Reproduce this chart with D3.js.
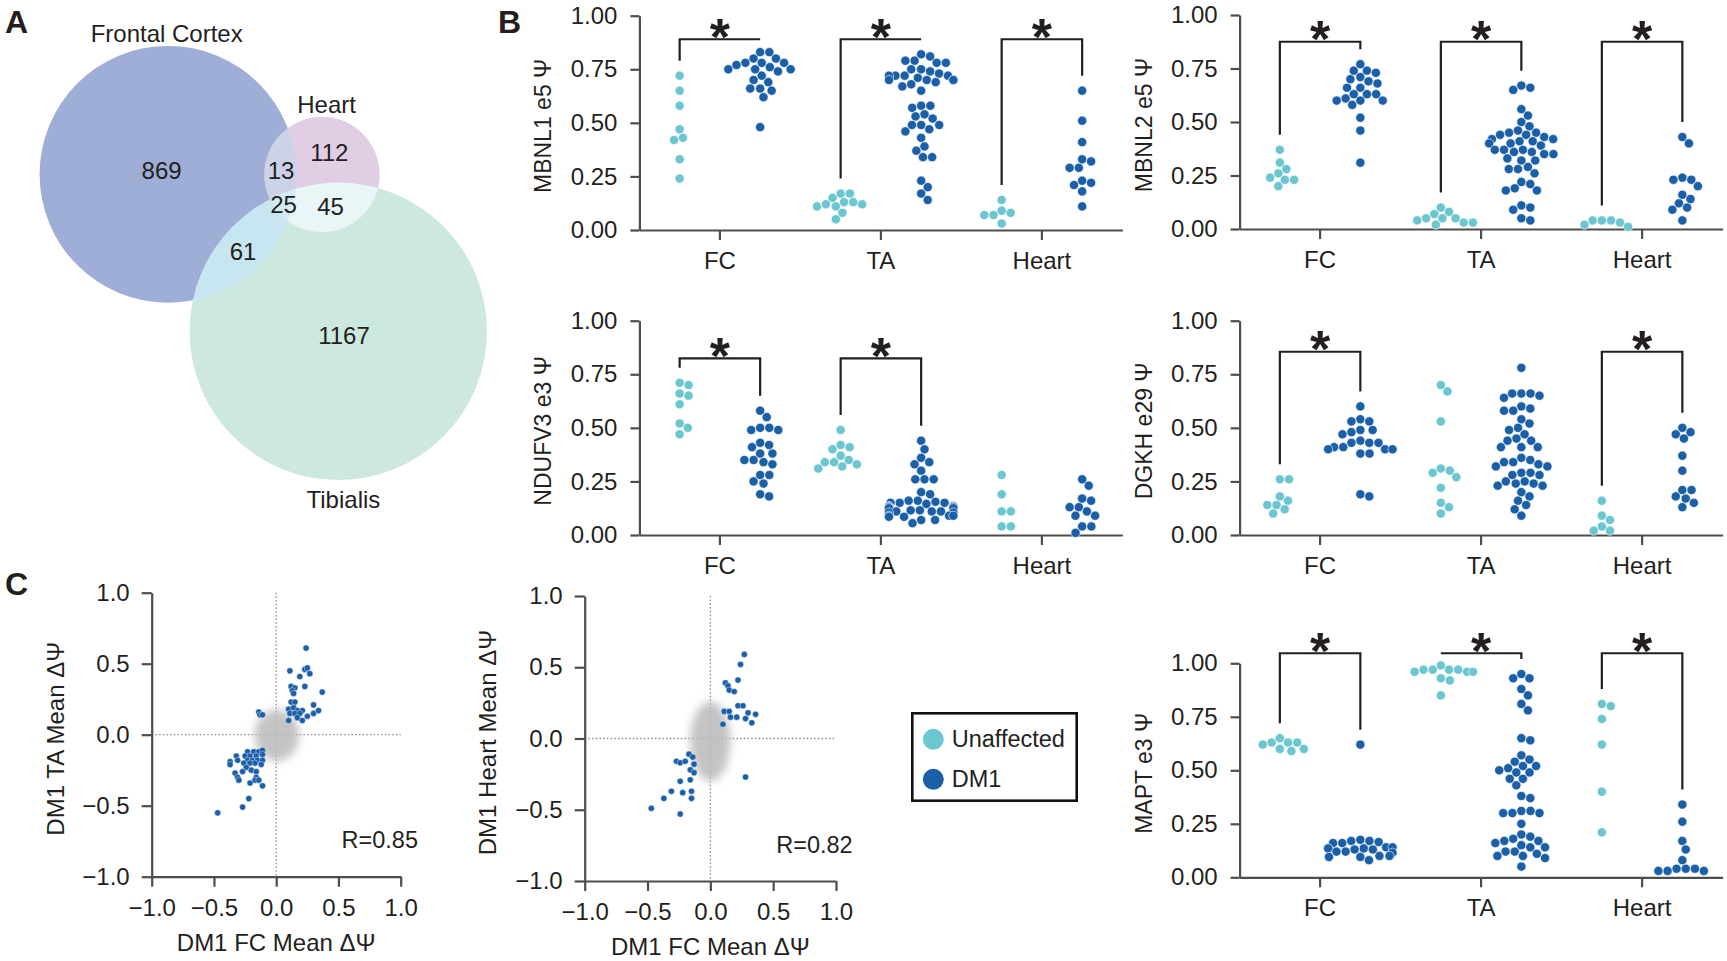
<!DOCTYPE html>
<html><head><meta charset="utf-8">
<script src="https://cdn.jsdelivr.net/npm/d3@7"></script>
<style>
body{margin:0;background:#fff;}
svg{display:block;font-family:"Liberation Sans",Arial,Helvetica,sans-serif;}
</style></head><body>
<svg id="fig" width="1727" height="961"></svg>
<script>
// ---------------- DATA ----------------
// Panel A: Venn region counts
const vennSets = ["Frontal Cortex", "Heart", "Tibialis"];
const vennOnly = [869, 112, 1167];           // FC only, Heart only, Tibialis only
const vennFCHeart = 13, vennFCTib = 61, vennHeartTib = 45, vennAll = 25;

// Panel B: swarm plots (Ψ), per category FC, TA, Heart
const categories = ["FC", "TA", "Heart"];
const groups = ["Unaffected", "DM1"];

const mbnl1Unaffected = [
  [0.72,0.65,0.58,0.47,0.43,0.42,0.33,0.24],
  [0.17,0.17,0.15,0.13,0.13,0.12,0.12,0.11,0.11,0.08,0.05],
  [0.14,0.09,0.08,0.07,0.07,0.03]];
const mbnl1DM1 = [
  [0.83,0.83,0.80,0.80,0.78,0.78,0.78,0.77,0.76,0.75,0.75,0.75,0.74,0.72,0.70,0.69,0.66,0.66,0.65,0.62,0.48],
  [0.82,0.81,0.79,0.79,0.78,0.78,0.75,0.75,0.74,0.73,0.72,0.72,0.72,0.72,0.71,0.70,0.70,0.70,0.70,0.69,0.68,0.67,0.65,0.58,0.58,0.57,0.54,0.53,0.52,0.49,0.49,0.49,0.47,0.46,0.43,0.39,0.37,0.34,0.34,0.23,0.20,0.17,0.14],
  [0.65,0.51,0.41,0.33,0.32,0.29,0.29,0.23,0.22,0.21,0.18,0.11]];
const mbnl1Sig = [true, true, true];

const mbnl2Unaffected = [
  [0.37,0.31,0.28,0.26,0.24,0.23,0.23,0.20],
  [0.10,0.08,0.07,0.05,0.05,0.05,0.04,0.03,0.03,0.02],
  [0.04,0.04,0.04,0.03,0.02,0.01]];
const mbnl2DM1 = [
  [0.77,0.74,0.74,0.73,0.71,0.70,0.69,0.68,0.66,0.66,0.63,0.63,0.63,0.61,0.60,0.60,0.60,0.58,0.52,0.46,0.31],
  [0.67,0.66,0.65,0.56,0.53,0.50,0.48,0.46,0.45,0.45,0.44,0.44,0.43,0.42,0.42,0.41,0.41,0.40,0.40,0.39,0.37,0.37,0.37,0.36,0.36,0.35,0.35,0.33,0.32,0.32,0.29,0.28,0.28,0.26,0.22,0.21,0.19,0.18,0.18,0.11,0.10,0.09,0.05,0.04],
  [0.43,0.40,0.24,0.23,0.23,0.20,0.16,0.14,0.12,0.10,0.09,0.04]];
const mbnl2Sig = [true, true, true];

const ndufv3Unaffected = [
  [0.71,0.70,0.66,0.65,0.61,0.52,0.50,0.47],
  [0.49,0.42,0.41,0.40,0.37,0.35,0.34,0.34,0.33,0.32,0.31],
  [0.28,0.19,0.11,0.11,0.04,0.04]];
const ndufv3DM1 = [
  [0.58,0.55,0.50,0.50,0.49,0.49,0.43,0.42,0.41,0.38,0.38,0.35,0.35,0.34,0.33,0.28,0.28,0.25,0.24,0.19,0.18],
  [0.44,0.40,0.36,0.34,0.33,0.30,0.26,0.26,0.26,0.20,0.19,0.16,0.155,0.15,0.15,0.145,0.16,0.15,0.135,0.13,0.13,0.125,0.135,0.13,0.125,0.13,0.11,0.115,0.105,0.11,0.11,0.105,0.115,0.09,0.085,0.09,0.085,0.09,0.07,0.07,0.055],
  [0.26,0.23,0.17,0.16,0.13,0.13,0.11,0.09,0.09,0.04,0.04,0.01]];
const ndufv3Sig = [true, true, false];

const dgkhUnaffected = [
  [0.26,0.26,0.18,0.16,0.14,0.14,0.12,0.10],
  [0.70,0.67,0.53,0.31,0.30,0.29,0.27,0.22,0.15,0.13,0.10],
  [0.16,0.09,0.07,0.04,0.02,0.02]];
const dgkhDM1 = [
  [0.60,0.54,0.53,0.53,0.49,0.49,0.48,0.47,0.44,0.43,0.43,0.43,0.41,0.41,0.40,0.40,0.40,0.38,0.38,0.19,0.18],
  [0.78,0.66,0.66,0.66,0.65,0.64,0.60,0.59,0.58,0.58,0.54,0.52,0.50,0.49,0.47,0.45,0.44,0.44,0.41,0.41,0.41,0.36,0.35,0.34,0.34,0.33,0.32,0.32,0.29,0.29,0.28,0.28,0.25,0.25,0.24,0.24,0.23,0.23,0.20,0.18,0.16,0.14,0.12,0.09],
  [0.50,0.48,0.47,0.45,0.37,0.30,0.21,0.21,0.18,0.17,0.15,0.13]];
const dgkhSig = [true, false, true];

const maptUnaffected = [
  [0.65,0.63,0.63,0.63,0.62,0.60,0.60,0.59],
  [0.99,0.97,0.97,0.97,0.97,0.96,0.96,0.96,0.93,0.92,0.85],
  [0.81,0.80,0.74,0.62,0.40,0.21]];
const maptDM1 = [
  [0.62,0.17,0.17,0.175,0.16,0.165,0.16,0.14,0.135,0.135,0.13,0.135,0.14,0.13,0.12,0.12,0.115,0.10,0.095,0.10,0.095,0.08],
  [0.95,0.93,0.93,0.88,0.85,0.81,0.78,0.65,0.64,0.57,0.55,0.54,0.52,0.52,0.51,0.50,0.49,0.49,0.46,0.46,0.43,0.38,0.37,0.31,0.31,0.30,0.30,0.30,0.25,0.20,0.19,0.18,0.17,0.17,0.16,0.15,0.14,0.14,0.12,0.12,0.11,0.10,0.10,0.09,0.05],
  [0.34,0.26,0.17,0.13,0.08,0.04,0.04,0.04,0.03,0.03,0.03]];
const maptSig = [true, true, true];

const psiTicks = [0, 0.25, 0.5, 0.75, 1.0];

// Panel C: mean ΔΨ of significant events [FC, other tissue]
const fcVsTA = [[0.24,0.61],[0.11,0.45],[0.23,0.46],[0.25,0.47],[0.19,0.41],[0.27,0.43],[0.12,0.34],[0.15,0.33],[0.13,0.31],[0.23,0.34],[0.14,0.29],[0.37,0.30],[0.12,0.23],[0.15,0.23],[0.30,0.21],[0.10,0.18],[0.14,0.19],[0.17,0.17],[0.21,0.17],[0.11,0.15],[0.15,0.15],[0.19,0.15],[0.17,0.12],[0.25,0.13],[0.30,0.15],[0.34,0.17],[0.10,0.10],[0.21,0.10],[-0.14,0.16],[-0.13,0.14],[-0.11,0.14],
  [-0.23,-0.12],[-0.18,-0.12],[-0.14,-0.12],[-0.11,-0.11],[-0.25,-0.15],[-0.21,-0.15],[-0.16,-0.15],[-0.11,-0.14],[-0.32,-0.15],[-0.31,-0.18],[-0.23,-0.18],[-0.19,-0.18],[-0.15,-0.18],[-0.11,-0.18],[-0.37,-0.19],[-0.37,-0.21],[-0.26,-0.20],[-0.21,-0.20],[-0.17,-0.20],[-0.12,-0.21],[-0.24,-0.23],[-0.20,-0.25],[-0.27,-0.26],[-0.33,-0.27],[-0.16,-0.26],[-0.31,-0.30],[-0.30,-0.32],[-0.16,-0.30],[-0.17,-0.32],[-0.14,-0.32],[-0.21,-0.34],[-0.11,-0.36],[-0.22,-0.45],[-0.27,-0.51],[-0.47,-0.55]];
const fcVsHeart = [[0.27,0.59],[0.24,0.52],[0.22,0.41],[0.12,0.39],[0.14,0.37],[0.15,0.34],[0.19,0.33],[0.22,0.23],[0.26,0.23],[0.11,0.19],[0.15,0.19],[0.30,0.18],[0.36,0.17],[0.16,0.15],[0.21,0.15],[0.28,0.14],[0.33,0.11],[0.10,0.10],[0.28,-0.27],
  [-0.17,-0.11],[-0.14,-0.13],[-0.27,-0.16],[-0.24,-0.17],[-0.20,-0.16],[-0.13,-0.18],[-0.16,-0.22],[-0.13,-0.24],[-0.16,-0.29],[-0.24,-0.30],[-0.31,-0.37],[-0.22,-0.38],[-0.15,-0.37],[-0.15,-0.42],[-0.37,-0.42],[-0.47,-0.49],[-0.24,-0.53]];
// non-significant background events summarised as a cloud (centre x, centre y, spread x, spread y in ΔΨ units)
const cloudTA = [0.005, -0.005, 0.18, 0.18];
const cloudHeart = [0.0, -0.02, 0.16, 0.28];
const correlations = [0.85, 0.82];
const deltaTicks = [-1, -0.5, 0, 0.5, 1];

// ---------------- DRAW ----------------
const svg = d3.select("#fig");
const INK = "#231f20", AXIS = "#4d4d4d";
const C_UNAFF = "#6cc6d0", C_DM1 = "#1a5fa8";

const defs = svg.append("defs");
defs.append("filter").attr("id","blur").attr("x","-50%").attr("y","-50%").attr("width","200%").attr("height","200%")
  .append("feGaussianBlur").attr("stdDeviation", 4.5);

// panel letters
[["A",5,33],["B",498,33],["C",5,595]].forEach(([t,x,y]) =>
  svg.append("text").attr("x",x).attr("y",y).attr("font-size",32).attr("font-weight",700).attr("fill",INK).text(t));

// ---- Venn ----
(function(){
  const totals = [
    vennOnly[0] + vennFCHeart + vennFCTib + vennAll,
    vennOnly[1] + vennFCHeart + vennHeartTib + vennAll,
    vennOnly[2] + vennFCTib + vennHeartTib + vennAll];
  const rScale = d3.scaleSqrt().domain([0, totals[2]]).range([0, 148.7]);
  const centers = [[168,174.3],[322,174.5],[338.3,331.3]];
  const fills = ["#9eaed6","#e1cee5","#cde8df"];
  const g = svg.append("g");
  const circ = i => ({cx: centers[i][0], cy: centers[i][1], r: rScale(totals[i])});
  [0,1,2].forEach(i => {
    const c = circ(i);
    defs.append("clipPath").attr("id","vc"+i).append("circle").attr("cx",c.cx).attr("cy",c.cy).attr("r",c.r);
    g.append("circle").attr("cx",c.cx).attr("cy",c.cy).attr("r",c.r).attr("fill",fills[i]);
  });
  const inter = (a, b, col) => {
    const c = circ(b);
    g.append("g").attr("clip-path",`url(#vc${a})`)
      .append("circle").attr("cx",c.cx).attr("cy",c.cy).attr("r",c.r).attr("fill",col);
  };
  inter(0,1,"#ccd3e9");
  inter(0,2,"#c8e6f1");
  inter(1,2,"#e9f5f6");
  const c2 = circ(2);
  g.append("g").attr("clip-path","url(#vc0)").append("g").attr("clip-path","url(#vc1)")
    .append("circle").attr("cx",c2.cx).attr("cy",c2.cy).attr("r",c2.r).attr("fill","#d4ebf4");

  const labels = [
    [vennSets[0],166.7,33.3],[vennSets[1],326.6,104],[vennSets[2],343.4,499],
    [vennOnly[0],161.6,170.7],[vennOnly[1],329.3,152.7],[vennOnly[2],344,335.7],
    [vennFCHeart,281,170.7],[vennAll,283.5,204],[vennHeartTib,330.6,206.7],[vennFCTib,243,251.7]];
  labels.forEach(([t,x,y]) => g.append("text").attr("x",x).attr("y",y)
    .attr("text-anchor","middle").attr("dominant-baseline","central")
    .attr("font-size",24).attr("fill",INK).text(t));
})();

// ---- swarm panels ----
function swarm(values, y, r, halfWidth) {
  const pts = values.map(v => ({v, y: y(v), x: 0})).sort((a,b) => a.y - b.y);
  const d = 2 * r, placed = [];
  for (const p of pts) {
    const nb = placed.filter(q => Math.abs(q.y - p.y) < d);
    const cands = [0];
    nb.forEach(q => { const dx = Math.sqrt(d*d - (q.y-p.y)**2); cands.push(q.x + dx, q.x - dx); });
    cands.sort((a,b) => Math.abs(a) - Math.abs(b));
    for (const c of cands) {
      if (nb.every(q => (c-q.x)**2 + (p.y-q.y)**2 >= d*d - 1e-6)) { p.x = c; break; }
    }
    placed.push(p);
  }
  // gutter: points that do not fit are pushed to the edge of the group's width
  placed.forEach(p => { p.x = Math.max(-halfWidth, Math.min(halfWidth, p.x)); });
  return placed;
}

function styleAxis(g, fs) {
  g.select(".domain").attr("stroke", AXIS).attr("stroke-width", 2.2);
  g.selectAll(".tick line").attr("stroke", AXIS).attr("stroke-width", 2.2);
  g.selectAll(".tick text").attr("fill", INK).attr("font-size", fs);
  g.attr("font-family", null);
}

const swarmPanels = [
  {title:"MBNL1 e5 Ψ", unaff:mbnl1Unaffected, dm1:mbnl1DM1, sig:mbnl1Sig, bracket:0.89, x0:639.4, top:15.7, bot:230},
  {title:"MBNL2 e5 Ψ", unaff:mbnl2Unaffected, dm1:mbnl2DM1, sig:mbnl2Sig, bracket:0.875, x0:1239.6, top:15, bot:229},
  {title:"NDUFV3 e3 Ψ", unaff:ndufv3Unaffected, dm1:ndufv3DM1, sig:ndufv3Sig, bracket:0.824, x0:639.4, top:320.7, bot:535},
  {title:"DGKH e29 Ψ", unaff:dgkhUnaffected, dm1:dgkhDM1, sig:dgkhSig, bracket:0.855, x0:1239.6, top:320.7, bot:535},
  {title:"MAPT e3 Ψ", unaff:maptUnaffected, dm1:maptDM1, sig:maptSig, bracket:1.047, x0:1239.6, top:663.3, bot:877.3}
];

swarmPanels.forEach(p => {
  const g = svg.append("g");
  const y = d3.scaleLinear().domain([0,1]).range([p.bot, p.top]);
  const x = d3.scaleBand().domain(categories).range([p.x0, p.x0 + 483]);
  const sub = d3.scalePoint().domain(groups).range([0, x.bandwidth()]).padding(0.5);
  const R = 4.6;
  const halfW = x.bandwidth() * 0.8 / 4;

  const ya = g.append("g").attr("transform",`translate(${p.x0},0)`)
    .call(d3.axisLeft(y).tickValues(psiTicks).tickFormat(d3.format(".2f")).tickSize(9).tickPadding(13).tickSizeOuter(0));
  styleAxis(ya, 24);
  const xa = g.append("g").attr("transform",`translate(0,${p.bot})`)
    .call(d3.axisBottom(x).tickSize(10).tickPadding(12).tickSizeOuter(0));
  styleAxis(xa, 24);

  g.append("text").attr("transform",`translate(${p.x0 - 96},${(p.top + p.bot)/2 + 3}) rotate(-90)`)
    .attr("text-anchor","middle").attr("dominant-baseline","central")
    .attr("font-size",23).attr("fill",INK).text(p.title);

  categories.forEach((cat, ci) => {
    [[p.unaff[ci], "Unaffected", C_UNAFF], [p.dm1[ci], "DM1", C_DM1]].forEach(([vals, grp, col]) => {
      const cx = x(cat) + sub(grp);
      const pts = swarm(vals, y, R, halfW);
      g.selectAll(null).data(pts).join("circle")
        .attr("cx", d => cx + d.x).attr("cy", d => d.y).attr("r", R)
        .attr("fill", col).attr("stroke","#fff").attr("stroke-width",0.6);
    });
    if (p.sig[ci]) {
      const xl = x(cat) + sub("Unaffected"), xr = x(cat) + sub("DM1");
      const yb = y(p.bracket);
      const legL = y(Math.min(p.bracket, d3.max(p.unaff[ci]) + 0.07));
      const legR = y(Math.min(p.bracket, d3.max(p.dm1[ci]) + 0.07));
      g.append("path").attr("d",`M${xl},${legL}V${yb}H${xr}V${legR}`)
        .attr("fill","none").attr("stroke",INK).attr("stroke-width",2.2);
      g.append("text").attr("x",(xl+xr)/2).attr("y", yb - 14 + 0.57*52)
        .attr("text-anchor","middle").attr("font-size",52).attr("font-weight",700)
        .attr("fill",INK).text("*");
    }
  });
});

// ---- legend ----
(function(){
  const g = svg.append("g");
  g.append("rect").attr("x",912.3).attr("y",713.3).attr("width",164.4).attr("height",87.4)
    .attr("fill","#fff").attr("stroke","#111").attr("stroke-width",2.6);
  [[groups[0], C_UNAFF, 739.3],[groups[1], C_DM1, 779.3]].forEach(([t,c,yy]) => {
    g.append("circle").attr("cx",933.3).attr("cy",yy).attr("r",10.5).attr("fill",c);
    g.append("text").attr("x",951.7).attr("y",yy).attr("dominant-baseline","central")
      .attr("font-size",23.5).attr("fill",INK).text(t);
  });
})();

// ---- scatter panels ----
const scatterPanels = [
  {pts:fcVsTA, cloud:cloudTA, r:correlations[0], ytitle:"DM1 TA Mean ΔΨ", x0:151.7, x1:400.7, top:592.7, bot:876.7, ytx:55, xty:951, rx:418, ry:848},
  {pts:fcVsHeart, cloud:cloudHeart, r:correlations[1], ytitle:"DM1 Heart Mean ΔΨ", x0:584.7, x1:836, top:596, bot:881, ytx:487, xty:955, rx:852.7, ry:853}
];
scatterPanels.forEach(p => {
  const g = svg.append("g");
  const x = d3.scaleLinear().domain([-1,1]).range([p.x0, p.x1]);
  const y = d3.scaleLinear().domain([-1,1]).range([p.bot, p.top]);
  g.append("line").attr("x1",x(0)).attr("x2",x(0)).attr("y1",y(1)).attr("y2",y(-1))
    .attr("stroke","#8a8a8a").attr("stroke-width",1.3).attr("stroke-dasharray","1.5,2.2");
  g.append("line").attr("x1",x(-1)).attr("x2",x(1)).attr("y1",y(0)).attr("y2",y(0))
    .attr("stroke","#8a8a8a").attr("stroke-width",1.3).attr("stroke-dasharray","1.5,2.2");
  const [ccx, ccy, sx, sy] = p.cloud;
  g.append("ellipse").attr("cx",x(ccx)).attr("cy",y(ccy))
    .attr("rx",x(sx) - x(0)).attr("ry",y(0) - y(sy))
    .attr("fill","#bdbdbd").attr("opacity",0.9).attr("filter","url(#blur)");
  const xa = g.append("g").attr("transform",`translate(0,${p.bot})`)
    .call(d3.axisBottom(x).tickValues(deltaTicks).tickFormat(d3.format(".1f")).tickSize(10).tickPadding(12).tickSizeOuter(0));
  styleAxis(xa, 24);
  const ya = g.append("g").attr("transform",`translate(${p.x0},0)`)
    .call(d3.axisLeft(y).tickValues(deltaTicks).tickFormat(d3.format(".1f")).tickSize(10).tickPadding(12).tickSizeOuter(0));
  styleAxis(ya, 24);
  g.selectAll(null).data(p.pts).join("circle")
    .attr("cx", d => x(d[0])).attr("cy", d => y(d[1])).attr("r", 3.1)
    .attr("fill", C_DM1).attr("stroke","#fff").attr("stroke-width",0.4);
  g.append("text").attr("x",p.rx).attr("y",p.ry).attr("text-anchor","end")
    .attr("font-size",23.5).attr("fill",INK).text("R=" + p.r.toFixed(2));
  g.append("text").attr("x",(p.x0+p.x1)/2).attr("y",p.xty).attr("text-anchor","middle")
    .attr("font-size",24).attr("fill",INK).text("DM1 FC Mean ΔΨ");
  g.append("text").attr("transform",`translate(${p.ytx},${(p.top+p.bot)/2 + 4}) rotate(-90)`)
    .attr("text-anchor","middle").attr("dominant-baseline","central")
    .attr("font-size",24).attr("fill",INK).text(p.ytitle);
});
</script>
</body></html>
